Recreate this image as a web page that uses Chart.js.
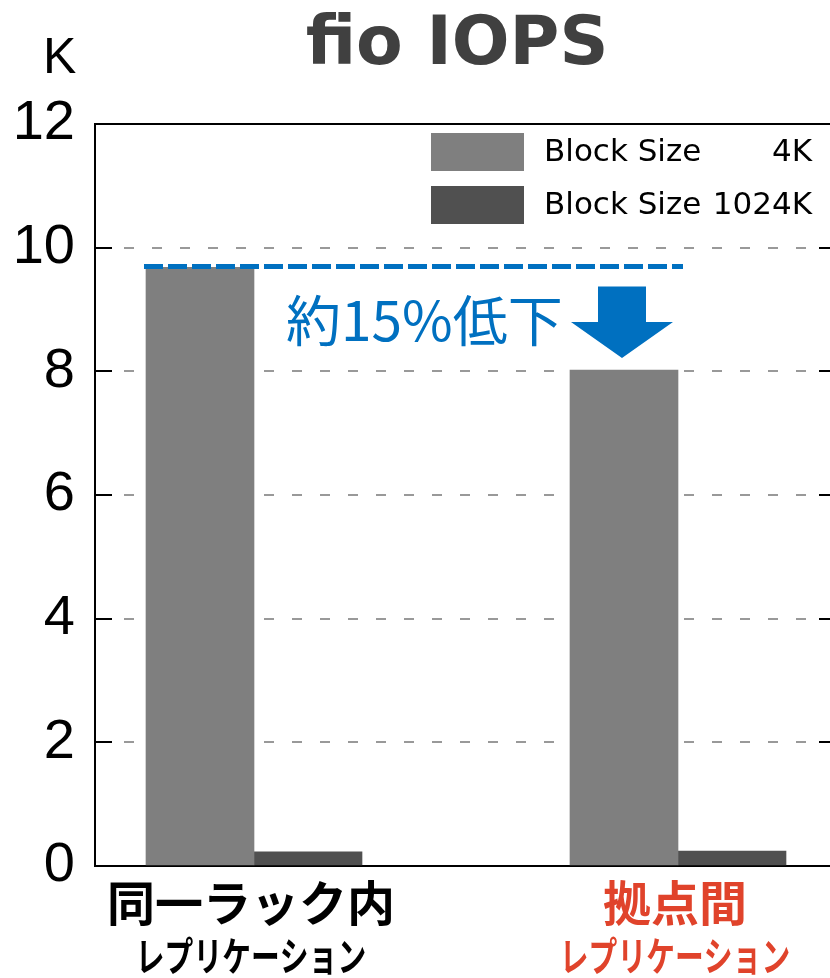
<!DOCTYPE html>
<html>
<head>
<meta charset="utf-8">
<script src="https://cdn.jsdelivr.net/npm/chart.js@4.4.1/dist/chart.umd.min.js"></script>
<style>
html,body{margin:0;padding:0;background:#fff;overflow:hidden;}
canvas{display:block;}
</style>
</head>
<body>
<canvas id="iopsChart" width="830" height="978"></canvas>
<script>
// data
const categories = ['同一ラック内', '拠点間'];
const subLabels = ['レプリケーション', 'レプリケーション'];
const categoryColors = ['#000000', '#e0432b'];
const seriesNames = ['Block Size', 'Block Size'];
const seriesSizes = ['4K', '1024K'];
const iops4k = [9.68, 8.02];
const iops1024k = [0.23, 0.24];
const yTicks = [0, 2, 4, 6, 8, 10, 12];
const dropNote = '約15%低下';

const barColors = ['#7f7f7f', '#505050'];
const blue = '#0070c0';

function line(ctx, x1, y1, x2, y2) {
    ctx.beginPath();
    ctx.moveTo(x1, y1);
    ctx.lineTo(x2, y2);
    ctx.stroke();
}

const overlay = {
    id: 'overlay',
    afterDraw(chart) {
        const ctx = chart.ctx;
        const a = chart.chartArea;
        const x = chart.scales.x;
        const y = chart.scales.y;
        ctx.save();

        // title + unit
        ctx.fillStyle = '#404040';
        ctx.font = 'bold 68px "DejaVu Sans"';
        ctx.textAlign = 'center';
        ctx.textBaseline = 'alphabetic';
        ctx.fillText('fio IOPS', 457, 64);
        ctx.fillStyle = '#000';
        ctx.font = '50px "Liberation Sans"';
        ctx.textAlign = 'left';
        ctx.fillText('K', 43, 73);

        // small black ticks on both sides
        ctx.strokeStyle = '#000';
        ctx.lineWidth = 2;
        yTicks.forEach(v => {
            if (v === 0 || v === 12) return;
            const py = Math.round(y.getPixelForValue(v));
            line(ctx, a.left, py, a.left + 17, py);
            line(ctx, a.right - 11, py, a.right, py);
        });

        // legend
        ctx.font = '31px "DejaVu Sans"';
        ctx.textBaseline = 'middle';
        seriesNames.forEach((name, i) => {
            const top = 133 + i * 53;
            ctx.fillStyle = barColors[i];
            ctx.fillRect(431, top, 93, 38);
            ctx.fillStyle = '#000';
            ctx.textAlign = 'left';
            ctx.fillText(name, 544, top + 20);
            ctx.textAlign = 'right';
            ctx.fillText(seriesSizes[i], 812, top + 20);
        });

        // blue dashed reference line at first bar's height
        const refY = y.getPixelForValue(iops4k[0]) - 1;
        ctx.strokeStyle = blue;
        ctx.lineWidth = 5;
        ctx.setLineDash([19, 5]);
        line(ctx, x.getPixelForValue(1) - 110, refY, x.getPixelForValue(2) + 5, refY);
        ctx.setLineDash([]);

        // arrow
        const ax = x.getPixelForValue(2) - 56;
        const aTop = refY + 20;
        const aTip = y.getPixelForValue(iops4k[1]) - 12;
        const headY = aTip - 36;
        ctx.fillStyle = blue;
        ctx.beginPath();
        ctx.moveTo(ax - 24, aTop);
        ctx.lineTo(ax + 24, aTop);
        ctx.lineTo(ax + 24, headY);
        ctx.lineTo(ax + 51, headY);
        ctx.lineTo(ax, aTip);
        ctx.lineTo(ax - 51, headY);
        ctx.lineTo(ax - 24, headY);
        ctx.closePath();
        ctx.fill();

        // note text
        ctx.font = '55px "Noto Sans CJK JP"';
        ctx.textAlign = 'left';
        ctx.textBaseline = 'alphabetic';
        ctx.fillText(dropNote, 286, 341);

        // category labels
        ctx.textAlign = 'center';
        ctx.textBaseline = 'middle';
        categories.forEach((c, i) => {
            const cx = x.getPixelForValue(i + 1) - 3;
            ctx.fillStyle = categoryColors[i];
            ctx.font = 'bold 48px "Noto Sans CJK JP"';
            ctx.fillText(c, cx, 903);
            ctx.save();
            ctx.translate(cx, 956);
            ctx.scale(0.72, 1);
            ctx.font = 'bold 40px "Noto Sans CJK JP"';
            ctx.fillText(subLabels[i], 0, 0);
            ctx.restore();
        });

        ctx.restore();
    }
};

new Chart(document.getElementById('iopsChart'), {
    type: 'bar',
    data: {
        datasets: [{
            label: seriesNames[0] + ' ' + seriesSizes[0],
            data: iops4k.map((v, i) => ({x: i + 1, y: v})),
            backgroundColor: barColors[0],
            barThickness: 108
        }, {
            label: seriesNames[1] + ' ' + seriesSizes[1],
            data: iops1024k.map((v, i) => ({x: i + 1, y: v})),
            backgroundColor: barColors[1],
            barThickness: 108
        }]
    },
    options: {
        responsive: false,
        animation: false,
        layout: {padding: {top: 124, left: 0, right: 0, bottom: 0}},
        plugins: {
            legend: {display: false},
            tooltip: {enabled: false}
        },
        scales: {
            x: {
                type: 'linear',
                offset: false,
                min: 0.625,
                max: 2.3585,
                afterBuildTicks: s => { s.ticks = categories.map((c, i) => ({value: i + 1})); },
                afterFit: s => { s.height = 112; },
                ticks: {display: false},
                grid: {display: false, offset: false},
                border: {display: true, color: '#000', width: 2}
            },
            y: {
                min: 0,
                max: 12,
                afterBuildTicks: s => { s.ticks = yTicks.map(v => ({value: v})); },
                afterFit: s => { s.width = 95; },
                ticks: {
                    color: '#000',
                    padding: 20,
                    font: {family: '"Liberation Sans", Arial', size: 56}
                },
                grid: {
                    drawTicks: false,
                    lineWidth: 2,
                    color: c => c.tick && c.tick.value === 12 ? '#000' : (c.tick && c.tick.value === 0 ? 'rgba(0,0,0,0)' : '#999')
                },
                border: {
                    display: true,
                    color: '#000',
                    width: 2,
                    dash: c => c.tick && c.tick.value === 12 ? [] : [10, 18]
                }
            }
        }
    },
    plugins: [overlay]
});
</script>
</body>
</html>
